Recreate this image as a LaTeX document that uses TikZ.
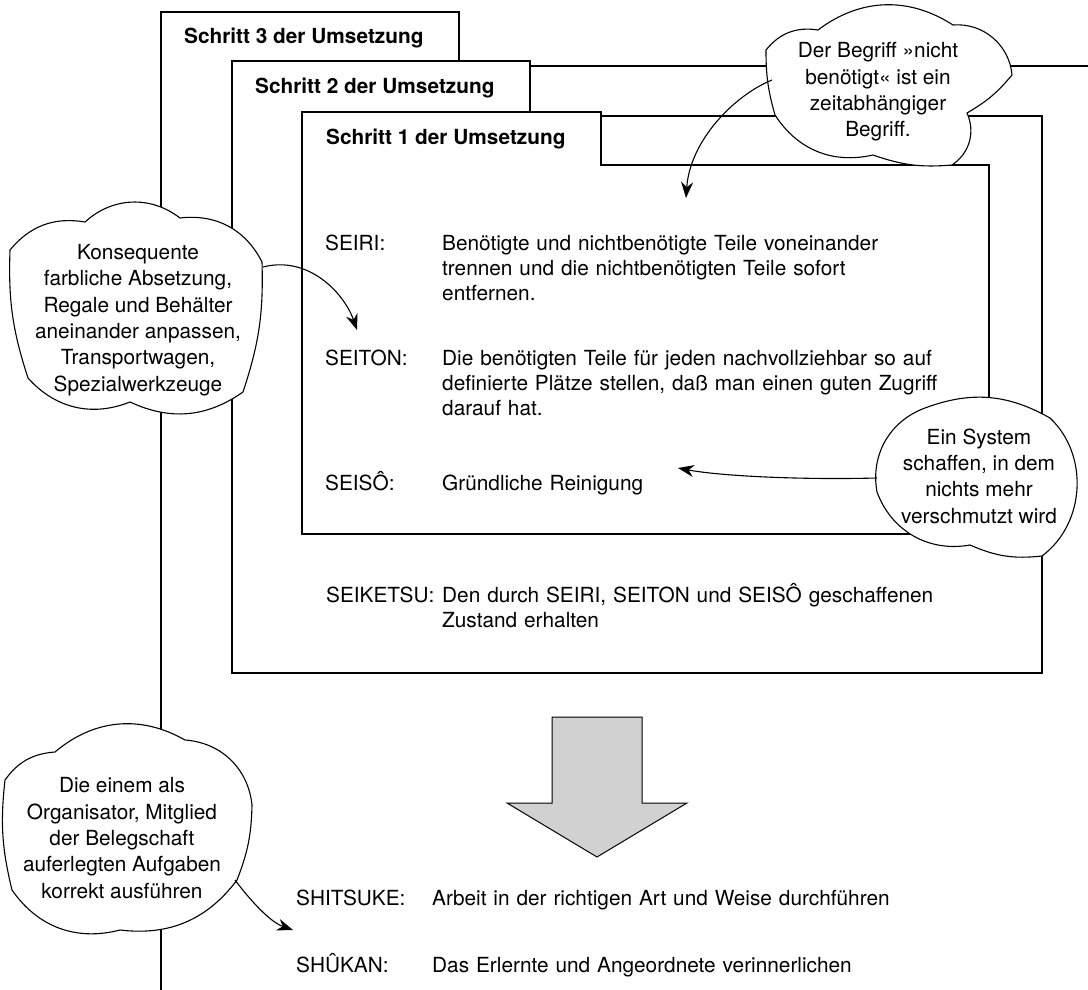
\documentclass[tikz,border=0pt]{standalone}
\usepackage{fontspec}
\setmainfont{TeX Gyre Heros}
\usetikzlibrary{arrows.meta}

\tikzset{
  box/.style={draw, fill=white, line width=1.2pt},
  lbl/.style={anchor=base west, inner sep=0pt, font=\fontsize{20.8}{25}\selectfont},
  txt/.style={lbl, text width=560pt, align=left},
  head/.style={lbl, font=\fontsize{20.8}{25}\selectfont\bfseries},
  cloud/.style={draw, fill=white, line width=1.1pt},
  ctext/.style={align=center, inner sep=0pt, font=\fontsize{20.8}{26.3}\selectfont},
  pfeil/.style={line width=1.1pt, -{Stealth[length=16pt,width=12pt]}},
}

\begin{document}
\begin{tikzpicture}[x=1pt,y=-1pt]
		\useasboundingbox (0,0) rectangle (1088,990);
		\clip (0,0) rectangle (1088,990);
		% Rahmen der drei Schritte
		\draw[line width=1.2pt] (1100,66) -- (459,66) -- (459,12) -- (161,12) -- (161,1000);
		\draw[box] (232,61) -- (530,61) -- (530,116) -- (1042,116) -- (1042,673) -- (232,673) -- cycle;
		\draw[box] (302,112) -- (601,112) -- (601,165) -- (989,165) -- (989,534) -- (302,534) -- cycle;
		\node[head] (S3) at (184,44) {Schritt 3 der Umsetzung};
		\node[head] (S2) at (255,94) {Schritt 2 der Umsetzung};
		\node[head] (S1) at (326,144) {Schritt 1 der Umsetzung};
		% die 5 S
		\node[lbl] (seiri) at (325,250) {SEIRI:};
		\node[txt] (seiriT) at (442,250) {Benötigte und nichtbenötigte Teile voneinander\\ trennen und die nichtbenötigten Teile sofort\\ entfernen.};
		\node[lbl] (seiton) at (325,365) {SEITON:};
		\node[txt] (seitonT) at (442,365) {Die benötigten Teile für jeden nachvollziehbar so auf\\ definierte Plätze stellen, daß man einen guten Zugriff\\ darauf hat.};
		\node[lbl] (seiso) at (325,490) {SEISÔ:};
		\node[txt] (seisoT) at (442,490) {Gründliche Reinigung};
		\node[lbl] (seiketsu) at (326,602) {SEIKETSU:};
		\node[txt] (seiketsuT) at (442,602) {Den durch SEIRI, SEITON und SEISÔ geschaffenen\\ Zustand erhalten};
		\draw[fill=black!18, line width=1pt] (552,717) -- (642,717) -- (642,803) -- (687,803) -- (597,857) -- (507,803) -- (552,803) -- cycle;
		\node[lbl] (shitsuke) at (296,905) {SHITSUKE:};
		\node[txt] (shitsukeT) at (432,905) {Arbeit in der richtigen Art und Weise durchführen};
		\node[lbl] (shukan) at (296,972) {SHÛKAN:};
		\node[txt] (shukanT) at (432,972) {Das Erlernte und Angeordnete verinnerlichen};
		% Wolken
		\draw[cloud] (766,50) to[bend left=30] (818,30) to[bend left=35] (953,25) to[bend left=45] (1012,75) to[bend left=10] (967,113) to[bend left=40] (952,165) to[bend left=12] (873,155) to[bend left=35] (775,115) to[bend left=8] (766,50) -- cycle;
		\node[ctext] (wolkeO) at (878,92) {Der Begriff »nicht\\ benötigt« ist ein\\ zeitabhängiger\\ Begriff.};
		\draw[cloud] (10,250) to[bend left=30] (85,222) to[bend left=40] (180,218) to[bend left=35] (262,262) to[bend left=10] (243,392) to[bend left=30] (130,402) to[bend left=35] (28,378) to[bend left=10] (10,250) -- cycle;
		\node[ctext] (wolkeL) at (138,320) {Konsequente\\ farbliche Absetzung,\\ Regale und Behälter\\ aneinander anpassen,\\ Transportwagen,\\ Spezialwerkzeuge};
		\draw[cloud] (925,408) to[bend left=25] (1050,418) to[bend left=50] (1042,556) to[bend left=15] (970,545) to[bend left=40] (877,492) to[bend left=40] (925,408) -- cycle;
		\node[ctext] (wolkeR) at (979,476) {Ein System\\ schaffen, in dem\\ nichts mehr\\ verschmutzt wird};
		\draw[cloud] (5,780) to[bend left=25] (55,752) to[bend left=35] (185,740) to[bend left=40] (252,805) to[bend left=10] (237,880) to[bend left=30] (120,930) to[bend left=35] (12,890) to[bend left=10] (5,780) -- cycle;
		\node[ctext] (wolkeU) at (122,838) {Die einem als\\ Organisator, Mitglied\\ der Belegschaft\\ auferlegten Aufgaben\\ korrekt ausführen};
		% Pfeile
		\coordinate (aO) at (772,80);
		\coordinate (zO) at (686,198);
		\coordinate (aL) at (263,267);
		\coordinate (zL) at (357,330);
		\coordinate (aR) at (877,478);
		\coordinate (zR) at (678,468);
		\coordinate (aU) at (235,880);
		\coordinate (zU) at (293,930);
		\draw[pfeil] (aO) .. controls (735,95) and (690,140) .. (zO);
		\draw[pfeil] (aL) .. controls (310,255) and (345,295) .. (zL);
		\draw[pfeil] (aR) .. controls (800,480) and (720,476) .. (zR);
		\draw[pfeil] (aU) .. controls (250,900) and (270,922) .. (zU);
	\end{tikzpicture}
\end{document}
